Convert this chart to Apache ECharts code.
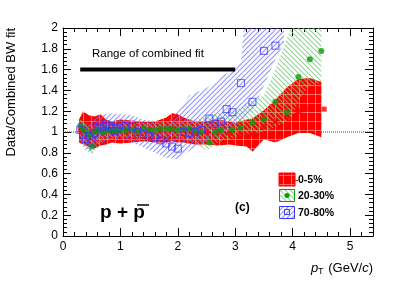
<!DOCTYPE html>
<html><head><meta charset="utf-8">
<script src="https://cdn.jsdelivr.net/npm/echarts@6/dist/echarts.min.js"></script>
<style>html,body{margin:0;padding:0;background:#fff}#c{width:415px;height:281px}</style>
</head><body><div id="c"></div>
<script>
// ---- data ----
const xTicks = [0, 1, 2, 3, 4, 5];
const yTicks = [0, 0.2, 0.4, 0.6, 0.8, 1, 1.2, 1.4, 1.6, 1.8, 2];

// 0-5% central
const redX = [0.3,0.5,0.7,0.9,1.1,1.3,1.5,1.7,1.9,2.1,2.3,2.5,2.7,2.9,3.1,3.3,3.5,3.7,3.9,4.1,4.3,4.55];
const redY = [1.02,1.0,1.0,1.0,1.0,1.01,1.01,1.02,1.03,1.02,1.0,1.0,1.0,0.99,0.98,0.98,1.05,1.1,1.15,1.2,1.22,1.22];
// 0-5% systematic band
const redBandX    = [0.28,0.35,0.45,0.55,0.65,0.75,0.85,1.0,1.2,1.4,1.6,1.8,1.9,2.0,2.1,2.3,2.5,2.7,2.9,3.0,3.2,3.3,3.5,3.7,3.9,4.1,4.3,4.5];
const redBandLow  = [0.9,0.88,0.86,0.84,0.87,0.88,0.9,0.89,0.9,0.91,0.9,0.9,0.91,0.9,0.9,0.88,0.88,0.87,0.88,0.87,0.86,0.81,0.93,0.9,0.95,0.99,0.99,0.95];
const redBandHigh = [1.12,1.2,1.16,1.15,1.17,1.12,1.1,1.12,1.11,1.1,1.1,1.14,1.18,1.17,1.14,1.1,1.1,1.12,1.1,1.09,1.12,1.13,1.21,1.31,1.43,1.51,1.52,1.48];

// 20-30%
const greenX = [0.3,0.35,0.4,0.45,0.5,0.55,0.6,0.65,0.7,0.75,0.8,0.85,0.9,0.95,1.0,1.1,1.2,1.3,1.4,1.5,1.6,1.7,1.8,1.9,2.0,2.1,2.2,2.3,2.4,2.55,2.65,2.75,2.95,3.1,3.3,3.5,3.7,3.9,4.1,4.3,4.5];
const greenY = [1.06,1.03,1.0,0.97,0.86,1.0,1.02,1.01,1.0,1.01,1.02,1.01,1.02,1.02,1.01,1.02,1.02,1.01,1.03,1.02,1.02,1.03,1.03,1.03,1.02,1.03,1.03,1.02,1.0,0.9,1.0,1.02,1.02,1.04,1.09,1.12,1.29,1.19,1.53,1.70,1.78];
const greenBandX    = [0.3,0.5,0.7,1.0,1.5,2.0,2.3,2.5,2.7,3.0,3.2,3.5,3.7,3.9,4.0,4.1,4.3,4.5];
const greenBandLow  = [0.92,0.78,0.92,0.95,0.95,0.95,0.9,0.82,0.9,0.95,0.98,1.0,1.05,1.1,1.15,1.3,1.45,1.47];
const greenBandHigh = [1.12,1.05,1.08,1.08,1.09,1.1,1.12,1.15,1.18,1.2,1.28,1.35,1.6,1.9,2.05,2.3,2.3,2.3];

// 70-80%
const blueX = [0.3,0.35,0.4,0.45,0.5,0.55,0.6,0.65,0.7,0.75,0.8,0.85,0.9,0.95,1.0,1.1,1.2,1.3,1.4,1.5,1.6,1.7,1.8,1.9,2.0,2.1,2.2,2.3,2.4,2.55,2.65,2.75,2.85,2.95,3.1,3.3,3.5,3.7];
const blueY = [1.02,0.97,0.93,0.96,0.9,0.99,1.04,1.07,1.05,1.07,1.06,1.04,1.01,1.04,1.07,1.06,1.05,1.0,0.98,0.96,0.95,0.92,0.89,0.86,0.84,1.0,0.99,1.0,1.02,1.13,1.08,1.1,1.22,1.19,1.47,1.29,1.78,1.83];
const blueBandX    = [0.3,0.4,0.5,0.6,0.8,1.0,1.2,1.4,1.6,1.8,2.0,2.2,2.4,2.6,2.8,3.0,3.1,3.2,3.3,3.5,3.7,3.85];
const blueBandLow  = [0.9,0.82,0.8,0.88,0.92,0.93,0.9,0.85,0.8,0.75,0.74,0.82,0.88,0.92,0.98,1.02,1.1,1.15,1.2,1.45,1.7,1.85];
const blueBandHigh = [1.1,1.08,1.1,1.15,1.18,1.17,1.16,1.12,1.1,1.08,1.2,1.35,1.4,1.45,1.55,1.6,1.68,2.3,2.3,2.3,2.3,2.3];

// combined fit range
const fitRangeX = [0.3, 3.0];
const fitRangeY = [1.6, 1.6];
const unityX = [0, 5.4];

// ---- patterns ----
function hatch(color, dir, s) {
  const c = document.createElement('canvas'); c.width = s; c.height = s;
  const g = c.getContext('2d'); g.strokeStyle = color; g.lineWidth = 1.1;
  g.beginPath();
  if (dir === '/') {
    g.moveTo(0, s); g.lineTo(s, 0);
    g.moveTo(-1, 1); g.lineTo(1, -1);
    g.moveTo(s - 1, s + 1); g.lineTo(s + 1, s - 1);
  } else {
    g.moveTo(0, 0); g.lineTo(s, s);
    g.moveTo(-1, s - 1); g.lineTo(1, s + 1);
    g.moveTo(s - 1, -1); g.lineTo(s + 1, 1);
  }
  g.stroke();
  return { image: c, repeat: 'repeat' };
}
function redGrid() {
  const c = document.createElement('canvas'); c.width = 8; c.height = 9;
  const g = c.getContext('2d');
  g.fillStyle = '#ff0000'; g.fillRect(0, 0, 8, 9);
  g.fillStyle = 'rgba(255,190,190,0.55)';
  g.fillRect(3, 0, 1, 9);
  g.fillRect(0, 4, 8, 1);
  return { image: c, repeat: 'repeat' };
}
const bluePat = hatch('rgba(110,110,255,0.75)', '/', 5);
const greenPat = hatch('rgba(120,200,120,0.8)', '\\', 5);
const redPat = redGrid();

function band(xs, lo, hi, fill) {
  return function (params, api) {
    const pts = [];
    for (let i = 0; i < xs.length; i++) pts.push(api.coord([xs[i], hi[i]]));
    for (let i = xs.length - 1; i >= 0; i--) pts.push(api.coord([xs[i], lo[i]]));
    return { type: 'polygon', shape: { points: pts }, style: { fill: fill, stroke: null } };
  };
}
const zip = (a, b) => a.map((v, i) => [v, b[i]]);

const FONT = 'Liberation Sans';
const chart = echarts.init(document.getElementById('c'), null, { renderer: 'canvas' });
const axisCommon = {
  axisLine: { show: true, onZero: false, lineStyle: { color: '#000', width: 1 } },
  axisTick: { show: true, inside: true, length: 8, lineStyle: { color: '#000' } },
  minorTick: { show: true, splitNumber: 5, length: 4, lineStyle: { color: '#000' } },
  splitLine: { show: false }, minorSplitLine: { show: false }
};
chart.setOption({
  animation: false,
  grid: { left: 63, right: 42, top: 28, bottom: 45 },
  xAxis: [
    Object.assign({ type: 'value', min: 0, max: 5.4, interval: 1, position: 'bottom',
      axisLabel: { show: true, color: '#000', fontFamily: FONT, fontSize: 12, margin: 5,
        showMaxLabel: false, formatter: v => xTicks.includes(v) ? String(v) : '' } }, axisCommon),
    Object.assign({ type: 'value', min: 0, max: 5.4, interval: 1, position: 'top',
      axisLabel: { show: false } }, axisCommon)
  ],
  yAxis: [
    Object.assign({ type: 'value', min: 0, max: 2, interval: 0.2, position: 'left',
      axisLabel: { show: true, color: '#000', fontFamily: FONT, fontSize: 12, margin: 5,
        formatter: v => { const t = yTicks.find(k => Math.abs(k - v) < 1e-6); return t === undefined ? '' : String(t); } } }, axisCommon),
    Object.assign({ type: 'value', min: 0, max: 2, interval: 0.2, position: 'right',
      axisLabel: { show: false } }, axisCommon)
  ],
  series: [
    { type: 'line', data: zip(unityX, [1, 1]), symbol: 'none', silent: true,
      lineStyle: { color: '#444', width: 1, type: [1, 1] }, z: 1 },
    { type: 'custom', clip: true, data: [[1, 1]], renderItem: band(redBandX, redBandLow, redBandHigh, redPat), z: 2 },
    { type: 'custom', clip: true, data: [[1, 1]], renderItem: band(greenBandX, greenBandLow, greenBandHigh, greenPat), z: 3 },
    { type: 'custom', clip: true, data: [[1, 1]], renderItem: band(blueBandX, blueBandLow, blueBandHigh, bluePat), z: 4 },
    { type: 'line', data: zip(fitRangeX, fitRangeY), symbol: 'none', lineStyle: { color: '#000', width: 4 }, z: 5 },
    { type: 'scatter', data: zip(redX, redY), symbol: 'rect', symbolSize: 5, itemStyle: { color: '#ff0000' }, z: 6 },
    { type: 'scatter', data: zip(greenX, greenY), symbol: 'circle', symbolSize: 6, itemStyle: { color: '#0a9a0a' }, z: 7 },
    { type: 'scatter', data: zip(blueX, blueY), symbol: 'rect', symbolSize: 7,
      itemStyle: { color: 'rgba(0,0,0,0)', borderColor: '#3a3aff', borderWidth: 1 }, z: 8 }
  ],
  graphic: [
    { type: 'text', x: 11, y: 28, rotation: Math.PI / 2,
      style: { text: 'Data/Combined BW fit', font: '13px "Liberation Sans"', fill: '#000', align: 'right', verticalAlign: 'middle' } },
    { type: 'text', x: 373, y: 268,
      style: { text: '{i|p}{s|T} (GeV/{i|c})', align: 'right', verticalAlign: 'middle', fill: '#000',
        font: '13px "Liberation Sans"',
        rich: { i: { fontStyle: 'italic', fontSize: 13, fontFamily: FONT },
                s: { fontSize: 9, fontFamily: FONT, padding: [8, 1, 0, 0] } } } },
    { type: 'text', x: 92, y: 54,
      style: { text: 'Range of combined fit', font: '11.5px "Liberation Sans"', fill: '#000', verticalAlign: 'middle' } },
    { type: 'text', x: 100, y: 213,
      style: { text: 'p + p', font: 'bold 19px "Liberation Sans"', fill: '#000', verticalAlign: 'middle' } },
    { type: 'line', shape: { x1: 137, y1: 205, x2: 149, y2: 205 }, style: { stroke: '#000', lineWidth: 1.5 } },
    { type: 'text', x: 235, y: 208,
      style: { text: '(c)', font: 'bold 12px "Liberation Sans"', fill: '#000', verticalAlign: 'middle' } },
    // legend
    { type: 'rect', shape: { x: 279, y: 173, width: 16, height: 13 }, style: { fill: redPat, stroke: '#ff0000', lineWidth: 1 } },
    { type: 'rect', shape: { x: 294, y: 180, width: 4, height: 1 }, style: { fill: '#ff0000' } },
    { type: 'text', x: 298, y: 180, style: { text: '0-5%', font: 'bold 10.5px "Liberation Sans"', fill: '#000', verticalAlign: 'middle' } },
    { type: 'rect', shape: { x: 279.5, y: 189.5, width: 15, height: 12 }, style: { fill: greenPat, stroke: '#0a9a0a', lineWidth: 1 } },
    { type: 'circle', shape: { cx: 287, cy: 195.5, r: 2.5 }, style: { fill: '#0a9a0a' } },
    { type: 'text', x: 298, y: 196, style: { text: '20-30%', font: 'bold 10.5px "Liberation Sans"', fill: '#000', verticalAlign: 'middle' } },
    { type: 'rect', shape: { x: 279.5, y: 206.5, width: 15, height: 12 }, style: { fill: bluePat, stroke: '#3a3aff', lineWidth: 1 } },
    { type: 'rect', shape: { x: 284.5, y: 209.5, width: 5, height: 5 }, style: { fill: 'none', stroke: '#3a3aff', lineWidth: 1 } },
    { type: 'text', x: 298, y: 213, style: { text: '70-80%', font: 'bold 10.5px "Liberation Sans"', fill: '#000', verticalAlign: 'middle' } }
  ]
});
</script></body></html>
